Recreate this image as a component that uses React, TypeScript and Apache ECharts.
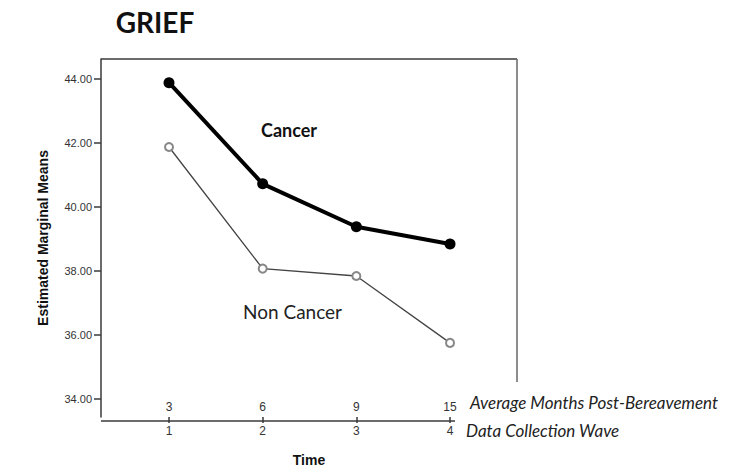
import React, { useEffect, useRef } from "react";
import * as echarts from "echarts";

const waves = [1, 2, 3, 4];
const waveLabels = ["1", "2", "3", "4"];
const monthLabels = ["3", "6", "9", "15"];
const cancer = [43.88, 40.72, 39.38, 38.84];
const nonCancer = [41.87, 38.07, 37.84, 35.75];
const yTicks = [34, 36, 38, 40, 42, 44];

const GL = 101, GT = 59, GW = 416, GH = 362;

export default function App() {
  const ref = useRef<HTMLDivElement>(null);
  useEffect(() => {
    if (!ref.current) return;
    const chart = echarts.init(ref.current, null, { renderer: "svg" });
    const axisColor = "#3a3a3a";
    chart.setOption({
      animation: false,
      backgroundColor: "#fff",
      grid: { left: GL, top: GT, width: GW, height: GH, containLabel: false },
      xAxis: [
        {
          type: "value",
          min: 0.274,
          max: 4.715,
          position: "bottom",
          name: "Time",
          nameLocation: "middle",
          nameGap: 36,
          nameTextStyle: { fontFamily: "Liberation Sans", fontWeight: "bold", fontSize: 14, color: "#111" },
          axisLine: { show: false },
          splitLine: { show: false },
          axisTick: { show: true, customValues: waves, length: 6, lineStyle: { color: axisColor, width: 1.5 } },
          axisLabel: {
            customValues: waves,
            margin: 8,
            fontFamily: "Liberation Sans",
            fontSize: 12,
            color: "#333",
            formatter: (v: number) => waveLabels[waves.indexOf(Math.round(v))] ?? "",
          },
        },
        {
          type: "value",
          min: 0.274,
          max: 4.715,
          position: "bottom",
          axisLine: { show: false },
          splitLine: { show: false },
          axisTick: { show: false },
          axisLabel: {
            inside: true,
            customValues: waves,
            margin: 4,
            fontFamily: "Liberation Sans",
            fontSize: 12,
            color: "#333",
            formatter: (v: number) => monthLabels[waves.indexOf(Math.round(v))] ?? "",
          },
        },
      ],
      yAxis: {
        type: "value",
        min: 33.435,
        max: 44.62,
        name: "Estimated Marginal Means",
        nameLocation: "middle",
        nameGap: 51,
        nameRotate: 90,
        nameTextStyle: { fontFamily: "Liberation Sans", fontWeight: "bold", fontSize: 14, color: "#111" },
        axisLine: { show: true, lineStyle: { color: axisColor, width: 1.5 } },
        splitLine: { show: false },
        axisTick: { show: true, customValues: yTicks, length: 7, lineStyle: { color: axisColor, width: 1.5 } },
        axisLabel: {
          customValues: yTicks,
          margin: 9,
          fontFamily: "Liberation Sans",
          fontSize: 11,
          color: "#333",
          formatter: (v: number) => v.toFixed(2),
        },
      },
      series: [
        {
          name: "Cancer",
          type: "line",
          xAxisIndex: 0,
          data: waves.map((w, i) => [w, cancer[i]]),
          symbol: "circle",
          symbolSize: 11,
          itemStyle: { color: "#000" },
          lineStyle: { color: "#000", width: 4 },
        },
        {
          name: "Non Cancer",
          type: "line",
          xAxisIndex: 0,
          data: waves.map((w, i) => [w, nonCancer[i]]),
          symbol: "emptyCircle",
          symbolSize: 8,
          itemStyle: { color: "#888", borderWidth: 1.2 },
          lineStyle: { color: "#444", width: 1.3 },
        },
      ],
      graphic: [
        { type: "line", shape: { x1: GL, y1: GT, x2: GL + GW, y2: GT }, style: { stroke: axisColor, lineWidth: 1.5 } },
        { type: "line", shape: { x1: GL + GW, y1: GT, x2: GL + GW, y2: 382 }, style: { stroke: "#666", lineWidth: 1.5 } },
        { type: "line", shape: { x1: GL, y1: GT + GH, x2: 455, y2: GT + GH }, style: { stroke: axisColor, lineWidth: 1.5 } },
        {
          type: "text", x: 155, y: 22,
          style: { text: "GRIEF", fontFamily: "Lato", fontWeight: "bold", fontSize: 28, fill: "#111", textAlign: "center", textVerticalAlign: "middle" },
        },
        {
          type: "text", x: 261, y: 130,
          style: { text: "Cancer", fontFamily: "Lato", fontWeight: "bold", fontSize: 18, fill: "#111", textAlign: "left", textVerticalAlign: "middle" },
        },
        {
          type: "text", x: 243, y: 311,
          style: { text: "Non Cancer", fontFamily: "Lato", fontSize: 19, fill: "#222", textAlign: "left", textVerticalAlign: "middle" },
        },
        {
          type: "text", x: 470, y: 402,
          style: { text: "Average Months Post-Bereavement", fontFamily: "Lato", fontStyle: "italic", fontSize: 17, fill: "#222", textAlign: "left", textVerticalAlign: "middle" },
        },
        {
          type: "text", x: 466, y: 430,
          style: { text: "Data Collection Wave", fontFamily: "Lato", fontStyle: "italic", fontSize: 17, fill: "#222", textAlign: "left", textVerticalAlign: "middle" },
        },
      ],
    });
    return () => chart.dispose();
  }, []);
  return <div ref={ref} style={{ position: "fixed", left: 0, top: 0, width: 749, height: 472, background: "#fff" }} />;
}
